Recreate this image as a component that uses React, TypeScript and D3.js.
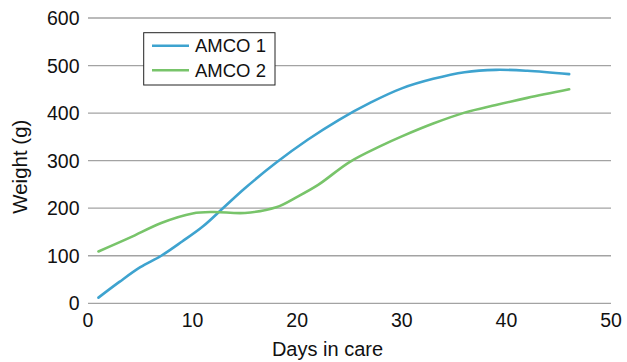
import React from "react";
import * as d3 from "d3";

const amco1Days = [1, 3, 5, 7, 9, 11, 13, 15, 18, 21, 24, 27, 30, 33, 36, 39, 42, 46];
const amco1Weights = [12, 45, 76, 100, 130, 162, 202, 242, 296, 344, 386, 422, 452, 472, 486, 491, 489, 482];
const amco2Days = [1, 4, 7, 10, 12, 15, 18, 20, 22, 25, 28, 30, 33, 36, 39, 42, 46];
const amco2Weights = [109, 138, 169, 189, 192, 190, 202, 224, 249, 297, 331, 351, 378, 401, 417, 432, 450];
const seriesNames = ["AMCO 1", "AMCO 2"];
const seriesColors = ["#3ea3cf", "#78c46a"];
const xTicks = [0, 10, 20, 30, 40, 50];
const yTicks = [0, 100, 200, 300, 400, 500, 600];

const W = 627;
const H = 362;
const FONT = "'Liberation Sans', Arial, Helvetica, sans-serif";

export default function App() {
  const x = d3.scaleLinear().domain([0, 50]).range([88, 611]);
  const y = d3.scaleLinear().domain([0, 600]).range([303.3, 18]);
  const line = d3
    .line<[number, number]>()
    .x((d) => x(d[0]))
    .y((d) => y(d[1]))
    .curve(d3.curveCatmullRom.alpha(0.5));
  const s1 = amco1Days.map((d, i) => [d, amco1Weights[i]] as [number, number]);
  const s2 = amco2Days.map((d, i) => [d, amco2Weights[i]] as [number, number]);
  const series = [s1, s2];

  return (
    <svg
      width={W}
      height={H}
      style={{ position: "absolute", left: 0, top: 0, background: "#fff" }}
      fontFamily={FONT}
    >
      {yTicks.map((t) => (
        <g key={"y" + t}>
          <line x1={x(0)} x2={x(50)} y1={y(t)} y2={y(t)} stroke="#a3a3a3" strokeWidth={1.3} />
          <text x={79.5} y={y(t)} dy="0.36em" textAnchor="end" fontSize={19.5} fill="#111">
            {t}
          </text>
        </g>
      ))}
      {xTicks.map((t) => (
        <text key={"x" + t} x={x(t)} y={326.5} textAnchor="middle" fontSize={19.5} fill="#111">
          {t}
        </text>
      ))}
      <text x={327.5} y={356} textAnchor="middle" fontSize={20} fill="#111">
        Days in care
      </text>
      <text
        transform={`translate(27,166.7) rotate(-90)`}
        textAnchor="middle"
        fontSize={20.5}
        fill="#111"
      >
        Weight (g)
      </text>
      {series.map((s, i) => (
        <path
          key={"s" + i}
          d={line(s) || ""}
          fill="none"
          stroke={seriesColors[i]}
          strokeWidth={2.6}
          strokeLinecap="round"
        />
      ))}
      <rect x={143.7} y={32.7} width={131.3} height={52.3} fill="#fff" stroke="#222" strokeWidth={1} />
      {seriesNames.map((n, i) => (
        <g key={"l" + i}>
          <line
            x1={152}
            x2={189}
            y1={45.7 + i * 24.5}
            y2={45.7 + i * 24.5}
            stroke={seriesColors[i]}
            strokeWidth={2.6}
          />
          <text x={195} y={45.7 + i * 24.5} dy="0.36em" fontSize={18.5} fill="#111">
            {n}
          </text>
        </g>
      ))}
    </svg>
  );
}
